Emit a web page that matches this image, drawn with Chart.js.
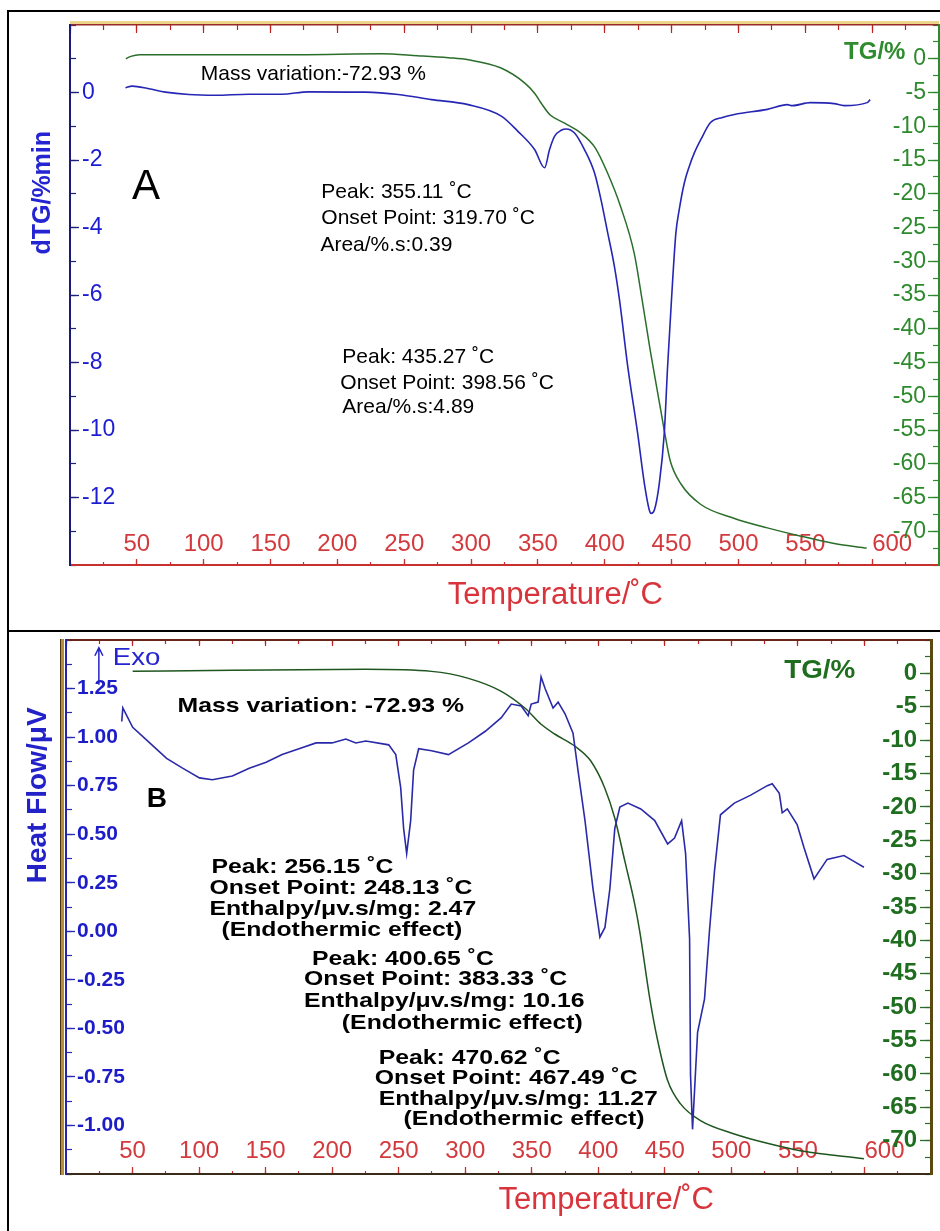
<!DOCTYPE html>
<html>
<head>
<meta charset="utf-8">
<title>TG / DTG / DTA curves</title>
<script src="https://cdn.jsdelivr.net/npm/chart.js@4.4.1/dist/chart.umd.min.js"></script>
<style>
  html, body { margin: 0; padding: 0; background: #fff; }
  #page { position: relative; width: 940px; height: 1231px; overflow: hidden; }
  .rule { position: absolute; background: #000; }
  canvas { position: absolute; }
</style>
</head>
<body>
<div id="page">
  <div class="rule" style="left:7px;top:10px;width:933px;height:2px"></div>
  <div class="rule" style="left:7px;top:10px;width:2px;height:1221px"></div>
  <div class="rule" style="left:7px;top:630px;width:933px;height:2px"></div>
  <canvas id="chartA" width="931" height="618" style="left:9px;top:12px"></canvas>
  <canvas id="chartB" width="931" height="599" style="left:9px;top:632px"></canvas>
</div>
<script>
// ---------- Panel A: DTG (left axis) + TG (right axis) ----------
const tempA_dtg = [41.5, 46.5, 59, 71.4, 88.8, 108.7, 133.6, 158.4, 178.4, 220.7,
  245.5, 270.4, 297.8, 322.6, 335, 347.5, 355, 358.7, 362.4, 367.4,
  371.1, 377.4, 384.8, 392.3, 397.2, 402.2, 407.2, 411, 417.2, 424.6,
  429.6, 433.3, 434.6, 437.1, 440.8, 444.5, 447, 449.9, 453.2, 455.7,
  459.5, 463.2, 467, 471.9, 479.1, 488, 497, 521.6, 536.6, 540.3,
  553.7, 571.6, 579, 596.3, 598.5];
const dtgA = [0.14, 0.19, 0.11, 0.01, -0.06, -0.08, -0.05, -0.05, 0.02, 0.01,
  -0.06, -0.21, -0.36, -0.70, -1.15, -1.69, -2.23, -1.69, -1.30, -1.12,
  -1.08, -1.20, -1.69, -2.38, -3.18, -4.16, -5.15, -6.14, -8.12, -10.1,
  -11.58, -12.37, -12.47, -12.37, -11.58, -10.1, -8.12, -6.14, -4.16, -3.47,
  -2.68, -2.19, -1.79, -1.39, -0.89, -0.74, -0.65, -0.50, -0.36, -0.39,
  -0.30, -0.33, -0.39, -0.30, -0.21];

const tempA_tg = [41.8, 45.5, 52, 96, 171, 233, 260, 283, 298, 322,
  340, 347.5, 352.5, 359, 370, 382, 392.5, 402, 412, 422,
  428, 434, 442, 445, 449, 457, 471.6, 497, 521.6, 546,
  571.6, 596];
const tgA = [0.0, 0.35, 0.6, 0.6, 0.6, 0.74, 0.45, 0.15, -0.15, -1.34,
  -3.57, -5.1, -6.6, -8.3, -9.55, -11.0, -13.1, -16.9, -22.0, -28.8,
  -35.8, -43.2, -52.2, -55.6, -59.6, -63.0, -66.0, -68.1, -69.5, -70.7,
  -71.8, -72.5];

// ---------- Panel B: heat flow (left axis) + TG (right axis) ----------
const tempB_hf = [41.9, 42.7, 50.1, 62.9, 75.6, 87.6, 100.3, 110, 125, 137.7,
  150.4, 162.4, 175.1, 187.9, 199.9, 210.3, 217.8, 225.3, 242.5, 247.8,
  251.5, 253.7, 256, 259, 261.2, 265, 274.7, 287.4, 302.4, 315.1,
  327.1, 334.6, 342.1, 347.3, 349.6, 354.8, 357, 360, 366, 369.8,
  375, 381, 384.7, 390, 396, 401.2, 405, 408.7, 412.4, 416.2,
  422.2, 431.9, 442.4, 452.1, 457.3, 462.6, 465.6, 468.6, 469.3, 470.8,
  474.6, 479.8, 483.5, 487.3, 491.8, 502.2, 514.2, 527, 530.7, 536,
  538.2, 542, 549.4, 554.6, 562.1, 571.9, 584.6, 592.1, 599.6];
const heatFlowB = [1.08, 1.15, 1.05, 0.97, 0.89, 0.84, 0.79, 0.78, 0.80, 0.84,
  0.87, 0.91, 0.94, 0.97, 0.97, 0.99, 0.97, 0.98, 0.96, 0.91,
  0.74, 0.53, 0.40, 0.57, 0.83, 0.94, 0.93, 0.91, 0.97, 1.03,
  1.10, 1.17, 1.16, 1.11, 1.17, 1.18, 1.31, 1.25, 1.15, 1.18,
  1.12, 1.02, 0.83, 0.57, 0.22, -0.03, 0.02, 0.22, 0.53, 0.64,
  0.66, 0.63, 0.57, 0.45, 0.48, 0.57, 0.40, -0.04, -0.74, -1.02,
  -0.52, -0.35, 0.00, 0.31, 0.60, 0.66, 0.70, 0.75, 0.76, 0.71,
  0.61, 0.63, 0.55, 0.43, 0.27, 0.37, 0.39, 0.36, 0.33];

const tempB_tg = [50.1, 125, 225.3, 274.7, 302.4, 327.1, 345, 357, 367.5, 382.5,
  394.5, 404.9, 412.4, 419.9, 427.4, 431.1, 438.6, 444.6, 452.1, 461.8,
  476.8, 502.2, 527, 551.6, 577.1, 599.6];
const tgB = [0.3, 0.45, 0.6, 0.3, -0.75, -2.69, -5.23, -7.63, -9.12, -10.92,
  -13.16, -17.2, -21.7, -28.1, -34.6, -38.6, -48.6, -55.0, -61.0, -64.5,
  -67.0, -69.0, -70.4, -71.5, -72.2, -72.7];

// ---------- tick labels ----------
const tempTicks = [50, 100, 150, 200, 250, 300, 350, 400, 450, 500, 550, 600];
const dtgTicks = [0, -2, -4, -6, -8, -10, -12];
const tgTicks = [0, -5, -10, -15, -20, -25, -30, -35, -40, -45, -50, -55, -60, -65, -70];
const hfTicks = [1.25, 1.00, 0.75, 0.50, 0.25, 0.00, -0.25, -0.50, -0.75, -1.00];

// ---------- annotation text: [text, temperature, left-axis value] ----------
const notesA = [
  ['Mass variation:-72.93 %', 97.8, 0.53],
  ['Peak: 355.11 ˚C', 188, -2.94],
  ['Onset Point: 319.70 ˚C', 188, -3.71],
  ['Area/%.s:0.39', 187.3, -4.51],
  ['Peak: 435.27 ˚C', 203.7, -7.83],
  ['Onset Point: 398.56 ˚C', 202.2, -8.61],
  ['Area/%.s:4.89', 203.7, -9.32]
];
const notesB = [
  ['Mass variation: -72.93 %', 83.8, 1.161],
  ['Peak: 256.15 ˚C', 109.3, 0.330],
  ['Onset Point: 248.13 ˚C', 107.8, 0.222],
  ['Enthalpy/μv.s/mg: 2.47', 107.8, 0.114],
  ['(Endothermic effect)', 116.8, 0.005],
  ['Peak: 400.65 ˚C', 184.9, -0.144],
  ['Onset Point: 383.33 ˚C', 178.9, -0.248],
  ['Enthalpy/μv.s/mg: 10.16', 178.9, -0.361],
  ['(Endothermic effect)', 207.3, -0.475],
  ['Peak: 470.62 ˚C', 235, -0.655],
  ['Onset Point: 467.49 ˚C', 232, -0.758],
  ['Enthalpy/μv.s/mg: 11.27', 235, -0.867],
  ['(Endothermic effect)', 253.7, -0.970]
];

const FONT = '"Liberation Sans", Arial, sans-serif';
Chart.defaults.font.family = FONT;

const pts = (xs, ys) => xs.map((x, i) => ({ x, y: ys[i] }));

// fixed axis thickness so the plot area lands where the original has it
function fixSize(size) {
  return s => {
    if (s.isHorizontal()) s.height = size; else s.width = size;
    s.paddingLeft = s.paddingRight = s.paddingTop = s.paddingBottom = 0;
  };
}

// shift the last temperature label right, as in the original
function tempLabel(v) {
  return v === 600 ? '\u2007\u2007\u2007600' : String(v);
}

// axis that only draws inward tick marks (minor ticks, top frame)
function tickAxis(position, min, max, step, len, color, weight, size, border) {
  return {
    type: 'linear',
    axis: (position === 'top' || position === 'bottom') ? 'x' : 'y',
    position, min, max,
    weight: weight || 0,
    ticks: { display: false, stepSize: step, maxTicksLimit: 1000 },
    grid: { drawOnChartArea: false, tickLength: -len, tickColor: color, tickWidth: 1.2 },
    border: border || { display: false },
    afterFit: fixSize(size || 0)
  };
}

// labelled axis, labels drawn inside the plot
function labelAxis(o) {
  const horiz = o.position === 'top' || o.position === 'bottom';
  return {
    type: 'linear',
    axis: horiz ? 'x' : 'y',
    position: o.position, min: o.min, max: o.max,
    weight: 1,
    afterBuildTicks: s => { s.ticks = o.ticks.map(v => ({ value: v })); },
    ticks: {
      mirror: true, padding: o.padding, color: o.color, font: o.font,
      autoSkip: false, maxRotation: 0, minRotation: 0, callback: o.format
    },
    grid: { drawOnChartArea: false, tickLength: -o.tick, tickColor: o.tickColor, tickWidth: 1.3 },
    border: { color: o.border, width: o.borderWidth || 2 },
    afterFit: fixSize(o.size)
  };
}

function text(ctx, str, x, y, o) {
  ctx.save();
  ctx.font = (o.weight || 'normal') + ' ' + o.size + 'px ' + FONT;
  ctx.fillStyle = o.color || '#000';
  ctx.textAlign = o.align || 'left';
  ctx.textBaseline = 'middle';
  ctx.translate(x, y);
  if (o.rotate) ctx.rotate(o.rotate);
  if (o.stretch) ctx.scale(o.stretch, 1);
  ctx.fillText(str, 0, 0);
  ctx.restore();
}

const panelA = {
  id: 'panelA',
  afterDraw(chart) {
    const { ctx, chartArea: a } = chart;
    const x = chart.scales.x, yL = chart.scales.yL;
    ctx.save();
    ctx.fillStyle = '#ecd48a';
    ctx.fillRect(a.left, a.top - 4, a.right - a.left, 3);
    ctx.restore();
    notesA.forEach(n => text(ctx, n[0], x.getPixelForValue(n[1]), yL.getPixelForValue(n[2]), { size: 21 }));
    text(ctx, 'A', x.getPixelForValue(46.3), yL.getPixelForValue(-2.82), { size: 42 });
    text(ctx, 'TG/%', x.getPixelForValue(579), yL.getPixelForValue(1.19),
      { size: 24, weight: 'bold', color: '#2e8b2e' });
    text(ctx, 'dTG/%min', 34, yL.getPixelForValue(-2.97),
      { size: 25, weight: 'bold', color: '#2424d2', align: 'center', rotate: -Math.PI / 2 });
    text(ctx, 'Temperature/˚C', x.getPixelForValue(363), a.bottom + 30,
      { size: 31, color: '#d8343c', align: 'center' });
  }
};

const panelB = {
  id: 'panelB',
  afterDraw(chart) {
    const { ctx, chartArea: a } = chart;
    const x = chart.scales.x, yL = chart.scales.yL;
    ctx.save();
    // gold frame strip left of the heat-flow axis
    ctx.fillStyle = '#b88c3c';
    ctx.fillRect(a.left - 5, a.top - 1, 3, a.bottom - a.top + 2);
    ctx.fillStyle = '#4a3510';
    ctx.fillRect(a.left - 6, a.top - 1, 1, a.bottom - a.top + 2);
    // exo arrow
    const ax = x.getPixelForValue(24.7);
    const tip = yL.getPixelForValue(1.46), tail = yL.getPixelForValue(1.27);
    ctx.strokeStyle = '#2424c8';
    ctx.lineWidth = 1.5;
    ctx.beginPath();
    ctx.moveTo(ax, tail); ctx.lineTo(ax, tip);
    ctx.moveTo(ax - 4, tip + 8); ctx.lineTo(ax, tip); ctx.lineTo(ax + 4, tip + 8);
    ctx.stroke();
    ctx.restore();
    text(ctx, 'Exo', x.getPixelForValue(35.2), yL.getPixelForValue(1.403),
      { size: 24, color: '#2424d0', stretch: 1.15 });
    notesB.forEach(n => text(ctx, n[0], x.getPixelForValue(n[1]), yL.getPixelForValue(n[2]),
      { size: 21, weight: 'bold', stretch: 1.18 }));
    text(ctx, 'B', x.getPixelForValue(60.6), yL.getPixelForValue(0.681), { size: 28, weight: 'bold' });
    text(ctx, 'TG/%', x.getPixelForValue(539.7), yL.getPixelForValue(1.342),
      { size: 26, weight: 'bold', color: '#1f6e1f', stretch: 1.07 });
    text(ctx, 'Heat Flow/μV', 29, yL.getPixelForValue(0.70),
      { size: 28, weight: 'bold', color: '#2222c8', align: 'center', rotate: -Math.PI / 2 });
    text(ctx, 'Temperature/˚C', x.getPixelForValue(406), a.bottom + 26,
      { size: 31, color: '#d8343c', align: 'center' });
  }
};

const common = {
  responsive: false,
  animation: false,
  devicePixelRatio: 1,
  events: [],
  layout: { padding: 0 },
  plugins: { legend: { display: false }, tooltip: { enabled: false } }
};

// ---------- chart A ----------
new Chart(document.getElementById('chartA'), {
  type: 'line',
  data: {
    datasets: [
      { data: pts(tempA_dtg, dtgA), yAxisID: 'yL', borderColor: '#2626b4', borderWidth: 1.6,
        pointRadius: 0, cubicInterpolationMode: 'monotone' },
      { data: pts(tempA_tg, tgA), yAxisID: 'yR', borderColor: '#2b6e2b', borderWidth: 1.5,
        pointRadius: 0, cubicInterpolationMode: 'monotone' }
    ]
  },
  options: Object.assign({}, common, {
    scales: {
      x: labelAxis({ position: 'bottom', min: 0, max: 650, ticks: tempTicks, format: tempLabel,
        padding: 6, color: '#d23a3e', font: { size: 24 }, tick: 6, tickColor: '#c83030',
        border: '#c83030', size: 65 }),
      xm: tickAxis('bottom', 0, 650, 25, 3, '#c83030'),
      xt: tickAxis('top', 0, 650, 50, 8, '#c02020', 1, 13, { color: '#9a2a2a', width: 1.5 }),
      xtm: tickAxis('top', 0, 650, 25, 5, '#c02020'),
      yL: labelAxis({ position: 'left', min: -14, max: 2, ticks: dtgTicks, format: v => String(v),
        padding: 12, color: '#1c1cd0', font: { size: 23 }, tick: 9, tickColor: '#20207a',
        border: '#1a1a78', size: 61 }),
      yLm: tickAxis('left', -14, 2, 1, 6, '#20207a'),
      yR: labelAxis({ position: 'right', min: -75, max: 5, ticks: tgTicks, format: v => String(v),
        padding: -13, color: '#2e8a2e', font: { size: 23 }, tick: 11, tickColor: '#2e8a2e',
        border: '#2e8a2e', size: 1 }),
      yRm: tickAxis('right', -75, 5, 2.5, 6, '#2e8a2e')
    }
  }),
  plugins: [panelA]
});

// ---------- chart B ----------
new Chart(document.getElementById('chartB'), {
  type: 'line',
  data: {
    datasets: [
      { data: pts(tempB_hf, heatFlowB), yAxisID: 'yL', borderColor: '#2a2aa8', borderWidth: 1.6,
        pointRadius: 0, tension: 0 },
      { data: pts(tempB_tg, tgB), yAxisID: 'yR', borderColor: '#1f551f', borderWidth: 1.5,
        pointRadius: 0, cubicInterpolationMode: 'monotone' }
    ]
  },
  options: Object.assign({}, common, {
    scales: {
      x: labelAxis({ position: 'bottom', min: 0, max: 650, ticks: tempTicks, format: tempLabel,
        padding: 8, color: '#d23a3e', font: { size: 24 }, tick: 7, tickColor: '#c83030',
        border: '#3a2a18', size: 57 }),
      xm: tickAxis('bottom', 0, 650, 25, 3, '#c83030'),
      xt: tickAxis('top', 0, 650, 50, 6, '#c02020', 1, 8, { color: '#6a2418', width: 2 }),
      xtm: tickAxis('top', 0, 650, 25, 4, '#c02020'),
      yL: labelAxis({ position: 'left', min: -1.25, max: 1.5, ticks: hfTicks, format: v => Number(v).toFixed(2),
        padding: 11, color: '#1c1cc8', font: { size: 21, weight: 'bold' }, tick: 9, tickColor: '#2828b0',
        border: '#2424a8', size: 57 }),
      yLm: tickAxis('left', -1.25, 1.5, 0.125, 6, '#2828b0'),
      yR: labelAxis({ position: 'right', min: -75, max: 5, ticks: tgTicks, format: v => String(v),
        padding: -14, color: '#1f6e1f', font: { size: 24, weight: 'bold' }, tick: 11, tickColor: '#2a6a2a',
        border: '#5a4a12', borderWidth: 3, size: 9 }),
      yRm: tickAxis('right', -75, 5, 2.5, 6, '#2a6a2a')
    }
  }),
  plugins: [panelB]
});
</script>
</body>
</html>
